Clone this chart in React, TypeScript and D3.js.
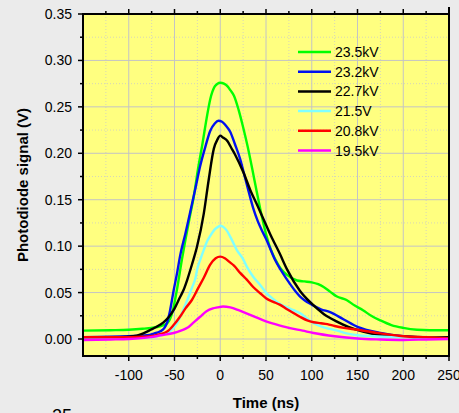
import React from "react";
import * as d3 from "d3";

// ---- data (time in ns, signal in V) ----
const xTicks = [-100, -50, 0, 50, 100, 150, 200, 250];
const yTicks = [0, 0.05, 0.1, 0.15, 0.2, 0.25, 0.3, 0.35];

const tGreen = [-150, -120, -100, -85, -75, -65, -58, -52, -47, -42, -38, -33, -29, -24, -20, -15, -11, -6, -3, 0, 4, 8, 11, 15, 20, 25, 30, 35, 40, 45, 50, 55, 60, 66, 73, 84, 92, 100, 107, 113, 120, 127, 138, 147, 156, 165, 175, 187, 200, 215, 229, 250];
const vGreen = [0.009, 0.0095, 0.010, 0.011, 0.012, 0.014, 0.017, 0.030, 0.055, 0.085, 0.107, 0.133, 0.153, 0.185, 0.207, 0.237, 0.258, 0.272, 0.275, 0.276, 0.275, 0.272, 0.268, 0.262, 0.247, 0.228, 0.207, 0.183, 0.158, 0.134, 0.113, 0.097, 0.086, 0.076, 0.069, 0.063, 0.062, 0.061, 0.059, 0.056, 0.051, 0.046, 0.042, 0.036, 0.031, 0.025, 0.020, 0.015, 0.012, 0.010, 0.0095, 0.0095];

const tBlue = [-150, -100, -80, -72, -66, -61, -58, -55, -51, -47, -44, -38, -33, -27, -22, -16, -11, -6, -2, 2, 6, 11, 16, 22, 27, 31, 36, 41, 45, 50, 60, 73, 87, 100, 110, 120, 135, 150, 175, 200, 225, 250];
const vBlue = [0.002, 0.003, 0.004, 0.006, 0.008, 0.012, 0.018, 0.030, 0.052, 0.072, 0.089, 0.114, 0.136, 0.163, 0.186, 0.208, 0.224, 0.232, 0.235, 0.234, 0.23, 0.223, 0.21, 0.193, 0.174, 0.159, 0.141, 0.127, 0.118, 0.108, 0.085, 0.064, 0.046, 0.037, 0.032, 0.029, 0.021, 0.013, 0.0065, 0.003, 0.002, 0.002];

const tBlack = [-150, -110, -95, -87, -80, -76, -70, -62, -56, -51, -44, -40, -36, -31, -25.5, -18, -12.7, -7, -3, 0, 3, 8, 12, 16, 25.5, 33, 40, 50, 55, 65, 73, 87, 100, 113, 127, 140, 156, 175, 193, 220, 250];
const vBlack = [0.002, 0.002, 0.003, 0.005, 0.008, 0.010, 0.013, 0.018, 0.024, 0.031, 0.045, 0.053, 0.064, 0.080, 0.099, 0.135, 0.171, 0.205, 0.215, 0.219, 0.217, 0.213, 0.206, 0.199, 0.179, 0.160, 0.145, 0.123, 0.112, 0.092, 0.075, 0.052, 0.038, 0.027, 0.019, 0.013, 0.008, 0.004, 0.003, 0.002, 0.002];

const tCyan = [-150, -100, -76, -65, -58, -52, -47, -42, -36, -31, -27, -25, -22, -18, -14, -11, -6, -2, 0, 3, 7, 11, 18, 25, 29, 36, 43, 50, 58, 65, 73, 80, 87, 95, 102, 115, 128, 138, 150, 168, 200, 250];
const vCyan = [0.002, 0.002, 0.002, 0.004, 0.0065, 0.011, 0.017, 0.028, 0.042, 0.055, 0.066, 0.076, 0.085, 0.096, 0.106, 0.111, 0.118, 0.121, 0.122, 0.121, 0.117, 0.110, 0.096, 0.086, 0.078, 0.067, 0.059, 0.050, 0.043, 0.038, 0.034, 0.031, 0.028, 0.022, 0.017, 0.012, 0.009, 0.006, 0.004, 0.003, 0.002, 0.001];

const tRed = [-150, -100, -85, -76, -67, -58, -51, -44, -38, -31, -24, -18, -11, -5, 0, 5, 10, 15, 22, 29, 36, 44, 50, 58, 65, 73, 80, 87, 95, 102, 110, 117, 125, 135, 150, 175, 200, 225, 250];
const vRed = [0.002, 0.002, 0.0025, 0.003, 0.005, 0.008, 0.015, 0.024, 0.033, 0.042, 0.055, 0.066, 0.080, 0.087, 0.0887, 0.087, 0.083, 0.079, 0.071, 0.064, 0.056, 0.049, 0.044, 0.040, 0.037, 0.032, 0.028, 0.024, 0.020, 0.018, 0.017, 0.016, 0.014, 0.012, 0.010, 0.006, 0.003, 0.002, 0.001];

const tMagenta = [-150, -120, -100, -76, -65, -51, -43, -36, -29, -22, -15, -8, -3, 3, 11, 20, 30, 40, 50, 60, 75, 90, 102, 125, 150, 175, 200, 225, 250];
const vMagenta = [-0.001, -0.0005, 0.0, 0.002, 0.004, 0.0065, 0.009, 0.012, 0.018, 0.024, 0.030, 0.033, 0.034, 0.035, 0.034, 0.031, 0.027, 0.023, 0.019, 0.016, 0.012, 0.009, 0.0065, 0.003, 0.0005, -0.0005, -0.001, -0.0005, 0.0];

const seriesNames = ["23.5kV", "23.2kV", "22.7kV", "21.5V", "20.8kV", "19.5kV"];
const seriesColors = ["#00ff00", "#0010f0", "#000000", "#80ffff", "#ff0000", "#ff00ff"];
const seriesT = [tGreen, tBlue, tBlack, tCyan, tRed, tMagenta];
const seriesV = [vGreen, vBlue, vBlack, vCyan, vRed, vMagenta];

const W = 459, H = 413;
const L = 83, R = 449, T = 14, B = 356;

export default function App() {
  const x = d3.scaleLinear().domain([-150, 250]).range([L, R]);
  const y = d3.scaleLinear().domain([-0.0183, 0.35]).range([B, T]);
  const line = d3
    .line<[number, number]>()
    .x((d) => x(d[0]))
    .y((d) => y(d[1]))
    .curve(d3.curveMonotoneX);

  const xMinor = d3.range(-125, 250, 50);
  const yMinor = d3.range(0.025, 0.35, 0.05);
  const font = "Liberation Sans, Arial, sans-serif";

  return (
    <svg width={W} height={H} style={{ position: "absolute", left: 0, top: 0 }} fontFamily={font}>
      <rect x={0} y={0} width={W} height={H} fill="#ebebeb" />
      <defs>
        <clipPath id="plotclip">
          <rect x={L} y={T} width={R - L} height={B - T} />
        </clipPath>
      </defs>
      <rect x={L} y={T} width={R - L} height={B - T} fill="#ffff80" />
      {/* minor grid */}
      {xMinor.map((v) => (
        <line key={"xm" + v} x1={x(v)} x2={x(v)} y1={T} y2={B} stroke="#d6d6b8" strokeWidth={1} strokeDasharray="1,2" />
      ))}
      {yMinor.map((v) => (
        <line key={"ym" + v} x1={L} x2={R} y1={y(v)} y2={y(v)} stroke="#d6d6b8" strokeWidth={1} strokeDasharray="1,2" />
      ))}
      {/* major grid */}
      {xTicks.map((v) => (
        <line key={"xg" + v} x1={x(v)} x2={x(v)} y1={T} y2={B} stroke="#c4c4c4" strokeWidth={1} />
      ))}
      {yTicks.map((v) => (
        <line key={"yg" + v} x1={L} x2={R} y1={y(v)} y2={y(v)} stroke="#c4c4c4" strokeWidth={1} />
      ))}
      {/* series */}
      <g clipPath="url(#plotclip)">
        {seriesT.map((ts, i) => (
          <path
            key={seriesNames[i]}
            d={line(ts.map((t, j) => [t, seriesV[i][j]] as [number, number])) || ""}
            fill="none"
            stroke={seriesColors[i]}
            strokeWidth={2.4}
            strokeLinejoin="round"
          />
        ))}
      </g>
      {/* legend */}
      {seriesNames.map((n, i) => (
        <g key={"lg" + n} transform={`translate(0, ${52 + i * 19.7})`}>
          <line x1={298} x2={331} y1={0} y2={0} stroke={seriesColors[i]} strokeWidth={2.5} />
          <text x={335} y={5} fontSize={14} fill="#000">{n}</text>
        </g>
      ))}
      {/* axes frame */}
      <line x1={L} x2={R} y1={T} y2={T} stroke="#000" strokeWidth={2} />
      <line x1={L} x2={R + 1} y1={B} y2={B} stroke="#000" strokeWidth={2} />
      <line x1={L} x2={L} y1={T - 1} y2={B + 1} stroke="#000" strokeWidth={2} />
      <line x1={R} x2={R} y1={T - 7} y2={B + 1} stroke="#000" strokeWidth={2} />
      {/* x ticks */}
      {xTicks.map((v) => (
        <g key={"xt" + v}>
          <line x1={x(v)} x2={x(v)} y1={B} y2={B + 5} stroke="#000" strokeWidth={1.5} />
          <line x1={x(v)} x2={x(v)} y1={T} y2={T - 5} stroke="#000" strokeWidth={1.5} />
          <text x={x(v)} y={380} fontSize={14} textAnchor="middle" fill="#000">{v}</text>
        </g>
      ))}
      {xMinor.map((v) => (
        <g key={"xmt" + v}>
          <line x1={x(v)} x2={x(v)} y1={B} y2={B + 3} stroke="#000" strokeWidth={1.5} />
          <line x1={x(v)} x2={x(v)} y1={T} y2={T - 3} stroke="#000" strokeWidth={1.5} />
        </g>
      ))}
      {/* y ticks */}
      {yTicks.map((v) => (
        <g key={"yt" + v}>
          <line x1={L} x2={L - 5} y1={y(v)} y2={y(v)} stroke="#000" strokeWidth={1.5} />
          <text x={72} y={y(v) + 5} fontSize={14} textAnchor="end" fill="#000">{v.toFixed(2)}</text>
        </g>
      ))}
      {yMinor.map((v) => (
        <line key={"ymt" + v} x1={L} x2={L - 3} y1={y(v)} y2={y(v)} stroke="#000" strokeWidth={1.5} />
      ))}
      {/* axis titles */}
      <text x={(L + R) / 2} y={408} fontSize={15} fontWeight="bold" textAnchor="middle" fill="#000">Time (ns)</text>
      <text transform={`translate(28, ${(T + B) / 2}) rotate(-90)`} fontSize={15} fontWeight="bold" textAnchor="middle" fill="#000">
        Photodiode signal (V)
      </text>
      <text x={52} y={422} fontSize={18} fill="#000">25</text>
    </svg>
  );
}
